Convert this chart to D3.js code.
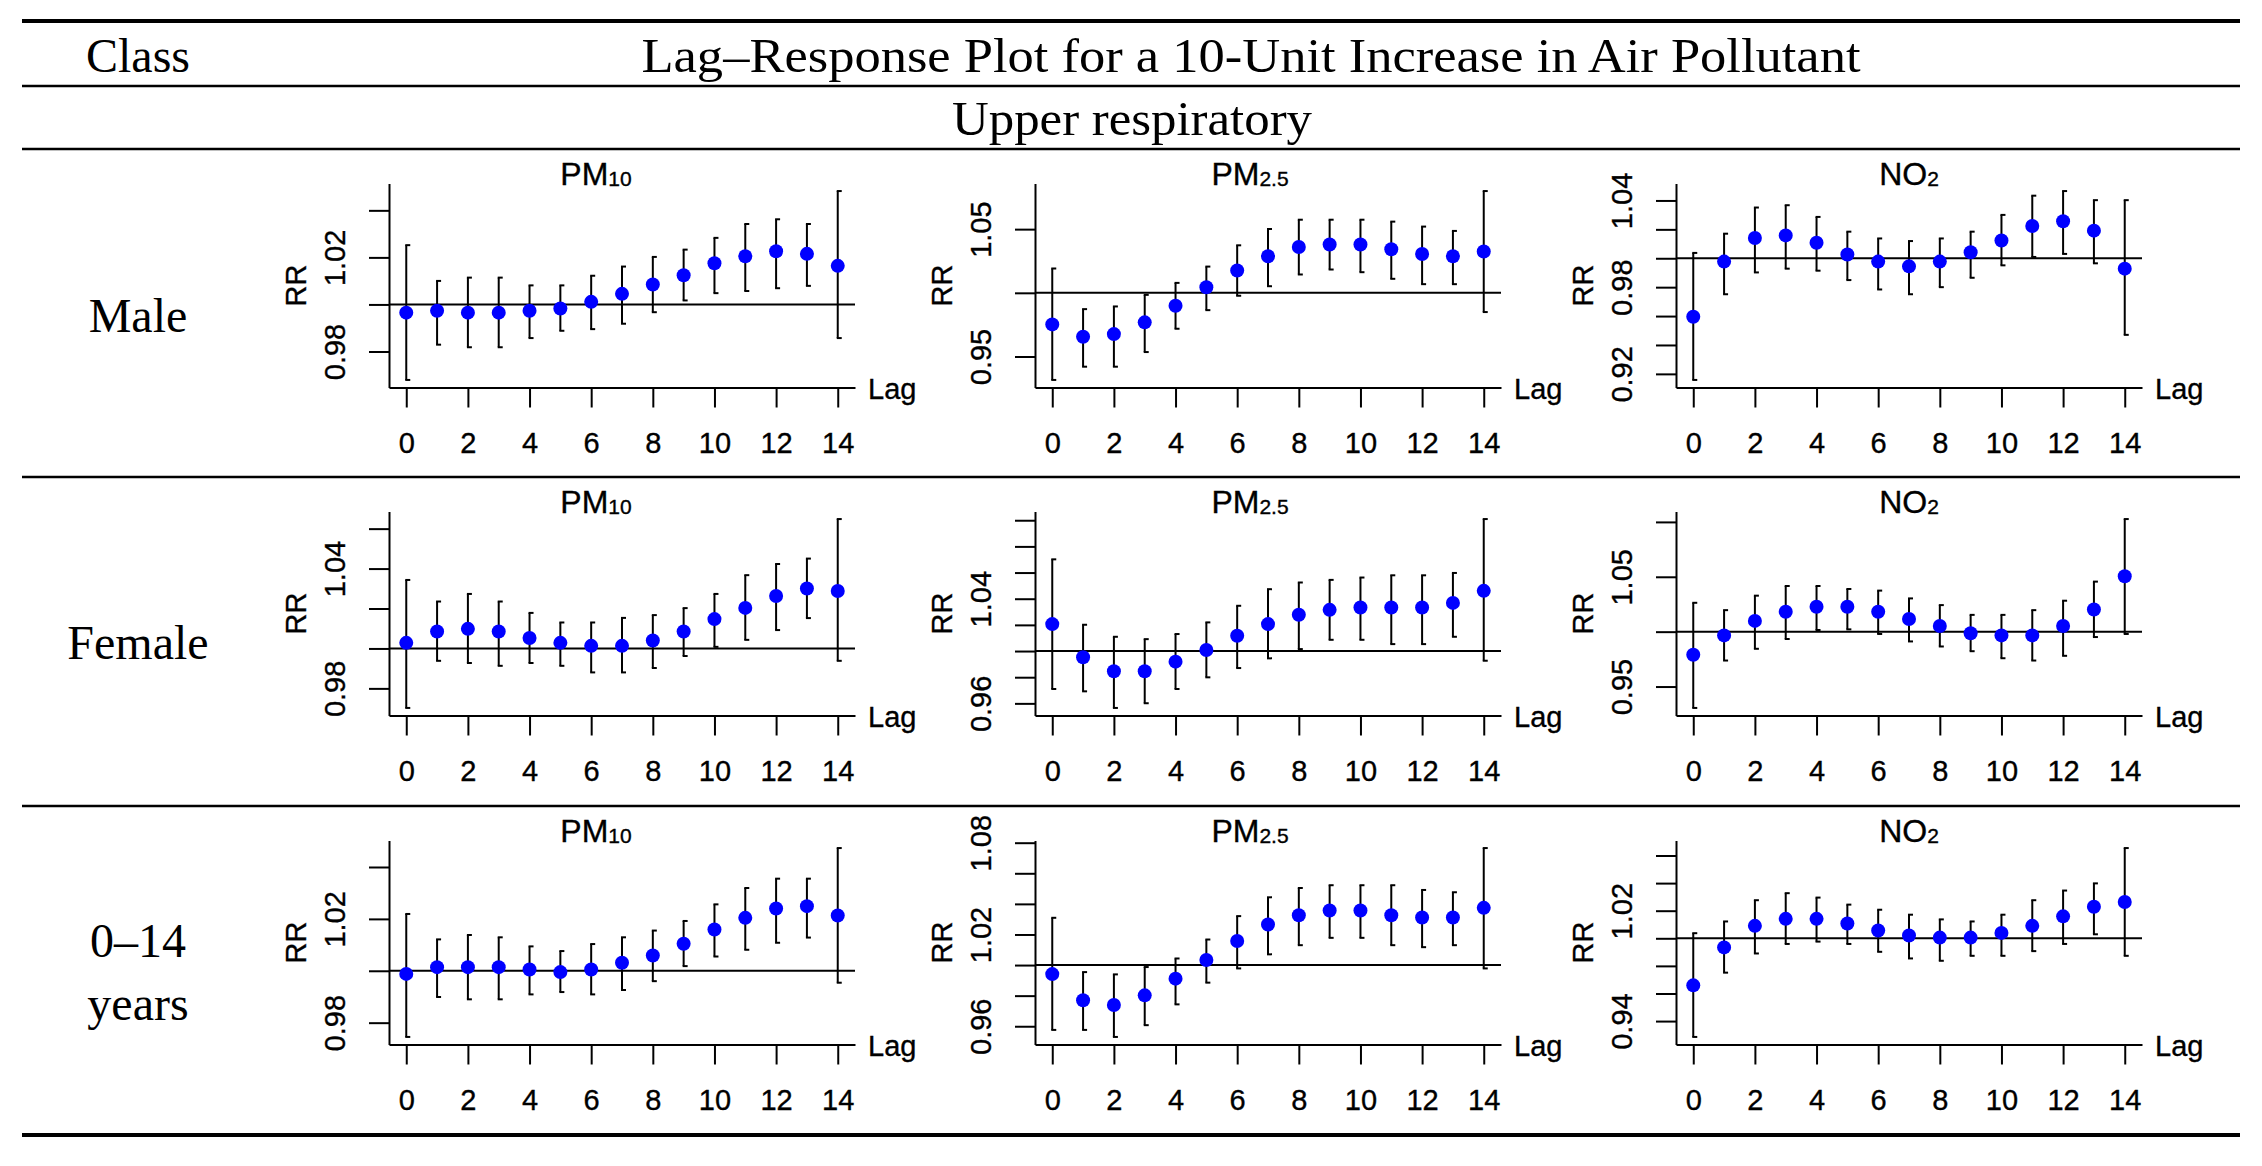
<!DOCTYPE html>
<html>
<head>
<meta charset="utf-8">
<script src="https://cdn.jsdelivr.net/npm/d3@7"></script>
<style>
  body { margin: 0; background: #fff; }
  svg { display: block; }
  .serif { font-family: "Liberation Serif", "Times New Roman", serif; fill: #000; }
  .sans  { font-family: "Liberation Sans", Arial, sans-serif; fill: #000; stroke: #000; stroke-width: 0.35px; }
  .axis path, .axis line { stroke: #000; stroke-width: 2; }
</style>
</head>
<body>
<svg id="chart" width="2262" height="1166"></svg>
<script>
/* ---- data: relative risk per lag, with 95% CI ---- */
const lags = [0,1,2,3,4,5,6,7,8,9,10,11,12,13,14];
const lagTicks = [0,2,4,6,8,10,12,14];
const classes = ['Male', 'Female', '0–14 years'];
const pollutants = ['PM10', 'PM2.5', 'NO2'];

const male_pm10_rr = [0.9965,0.9973,0.9965,0.9965,0.9973,0.9983,1.0011,1.0045,1.0085,1.0124,1.0175,1.0205,1.0226,1.0215,1.0164];
const male_pm10_lo = [0.9679,0.9829,0.9818,0.9818,0.9857,0.9888,0.9895,0.9918,0.9967,1.0017,1.0048,1.0057,1.0069,1.0079,0.9857];
const male_pm10_hi = [1.0252,1.0100,1.0114,1.0114,1.0081,1.0081,1.0122,1.0161,1.0202,1.0233,1.0283,1.0342,1.0362,1.0342,1.0482];

const male_pm25_rr = [0.9752,0.9655,0.9676,0.9768,0.9898,1.0044,1.0175,1.0287,1.0360,1.0379,1.0379,1.0342,1.0305,1.0287,1.0324];
const male_pm25_lo = [0.9316,0.9420,0.9420,0.9535,0.9718,0.9864,0.9977,1.0052,1.0144,1.0183,1.0162,1.0110,1.0068,1.0068,0.9849];
const male_pm25_hi = [1.0191,0.9872,0.9893,0.9984,1.0078,1.0206,1.0373,1.0501,1.0574,1.0574,1.0574,1.0559,1.0520,1.0486,1.0799];

const male_no2_rr = [0.9595,0.9977,1.0140,1.0158,1.0107,1.0026,0.9977,0.9944,0.9977,1.0042,1.0123,1.0223,1.0256,1.0191,0.9928];
const male_no2_lo = [0.9158,0.9751,0.9902,0.9928,0.9914,0.9849,0.9784,0.9751,0.9800,0.9865,0.9951,1.0009,1.0030,0.9965,0.9470];
const male_no2_hi = [1.0037,1.0170,1.0351,1.0367,1.0286,1.0184,1.0137,1.0119,1.0137,1.0184,1.0300,1.0433,1.0465,1.0402,1.0402];

const female_pm10_rr = [1.0028,1.0085,1.0098,1.0085,1.0052,1.0028,1.0013,1.0013,1.0040,1.0085,1.0147,1.0203,1.0263,1.0300,1.0288];
const female_pm10_lo = [0.9702,0.9938,0.9927,0.9913,0.9927,0.9913,0.9880,0.9880,0.9902,0.9962,1.0008,1.0043,1.0092,1.0152,0.9938];
const female_pm10_hi = [1.0343,1.0235,1.0273,1.0235,1.0178,1.0130,1.0130,1.0153,1.0167,1.0202,1.0273,1.0367,1.0423,1.0450,1.0648];

const female_pm25_rr = [1.0206,0.9952,0.9845,0.9845,0.9919,1.0008,1.0117,1.0206,1.0277,1.0315,1.0333,1.0333,1.0333,1.0368,1.0460];
const female_pm25_lo = [0.9710,0.9692,0.9565,0.9601,0.9710,0.9799,0.9870,0.9944,1.0015,1.0086,1.0086,1.0053,1.0053,1.0109,0.9926];
const female_pm25_hi = [1.0701,1.0201,1.0109,1.0091,1.0130,1.0219,1.0346,1.0473,1.0524,1.0544,1.0562,1.0579,1.0579,1.0597,1.1009];

const female_no2_rr = [0.9789,0.9966,1.0098,1.0181,1.0227,1.0227,1.0181,1.0116,1.0052,0.9985,0.9966,0.9966,1.0052,1.0202,1.0505];
const female_no2_lo = [0.9305,0.9737,0.9844,0.9933,1.0015,1.0021,0.9979,0.9911,0.9865,0.9822,0.9758,0.9737,0.9780,0.9951,0.9979];
const female_no2_hi = [1.0263,1.0196,1.0328,1.0416,1.0416,1.0389,1.0374,1.0303,1.0242,1.0153,1.0153,1.0196,1.0282,1.0456,1.1026];

const child_pm10_rr = [0.9988,1.0014,1.0014,1.0014,1.0005,0.9995,1.0005,1.0031,1.0059,1.0104,1.0159,1.0204,1.0240,1.0249,1.0213];
const child_pm10_lo = [0.9745,0.9899,0.9890,0.9890,0.9909,0.9918,0.9909,0.9926,0.9960,1.0018,1.0055,1.0081,1.0108,1.0128,0.9954];
const child_pm10_hi = [1.0219,1.0121,1.0138,1.0129,1.0094,1.0076,1.0103,1.0129,1.0155,1.0192,1.0256,1.0319,1.0355,1.0355,1.0473];

const child_pm25_rr = [0.9941,0.9770,0.9739,0.9802,0.9911,1.0033,1.0157,1.0265,1.0326,1.0357,1.0357,1.0326,1.0311,1.0311,1.0374];
const child_pm25_lo = [0.9576,0.9576,0.9530,0.9607,0.9743,0.9885,0.9978,1.0070,1.0130,1.0178,1.0178,1.0130,1.0117,1.0130,0.9978];
const child_pm25_hi = [1.0309,0.9954,0.9939,0.9987,1.0043,1.0167,1.0320,1.0443,1.0504,1.0522,1.0522,1.0522,1.0491,1.0476,1.0765];

const child_no2_rr = [0.9659,0.9934,1.0090,1.0141,1.0141,1.0107,1.0056,1.0020,1.0005,1.0005,1.0039,1.0090,1.0159,1.0229,1.0263];
const child_no2_lo = [0.9285,0.9751,0.9890,0.9959,0.9976,0.9959,0.9902,0.9854,0.9837,0.9873,0.9873,0.9907,0.9959,1.0029,0.9873];
const child_no2_hi = [1.0037,1.0122,1.0276,1.0327,1.0295,1.0244,1.0207,1.0171,1.0137,1.0122,1.0171,1.0276,1.0346,1.0398,1.0654];

/* y ticks per panel (R pretty) and the labels R managed to print */
const male_pm10_ticks = [0.98,1.00,1.02,1.04],   male_pm10_labels = [0.98,1.02];
const male_pm25_ticks = [0.95,1.00,1.05],        male_pm25_labels = [0.95,1.05];
const male_no2_ticks  = [0.92,0.94,0.96,0.98,1.00,1.02,1.04], male_no2_labels = [0.92,0.98,1.04];
const female_pm10_ticks = [0.98,1.00,1.02,1.04,1.06], female_pm10_labels = [0.98,1.04];
const female_pm25_ticks = [0.96,0.98,1.00,1.02,1.04,1.06,1.08,1.10], female_pm25_labels = [0.96,1.04];
const female_no2_ticks  = [0.95,1.00,1.05,1.10], female_no2_labels = [0.95,1.05];
const child_pm10_ticks = [0.98,1.00,1.02,1.04], child_pm10_labels = [0.98,1.02];
const child_pm25_ticks = [0.96,0.98,1.00,1.02,1.04,1.06,1.08], child_pm25_labels = [0.96,1.02,1.08];
const child_no2_ticks  = [0.94,0.96,0.98,1.00,1.02,1.04,1.06], child_no2_labels = [0.94,1.02];

/* panel table built from the arrays above: [row][col] */
const panels = [
  [[male_pm10_rr, male_pm10_lo, male_pm10_hi, male_pm10_ticks, male_pm10_labels],
   [male_pm25_rr, male_pm25_lo, male_pm25_hi, male_pm25_ticks, male_pm25_labels],
   [male_no2_rr,  male_no2_lo,  male_no2_hi,  male_no2_ticks,  male_no2_labels]],
  [[female_pm10_rr, female_pm10_lo, female_pm10_hi, female_pm10_ticks, female_pm10_labels],
   [female_pm25_rr, female_pm25_lo, female_pm25_hi, female_pm25_ticks, female_pm25_labels],
   [female_no2_rr,  female_no2_lo,  female_no2_hi,  female_no2_ticks,  female_no2_labels]],
  [[child_pm10_rr, child_pm10_lo, child_pm10_hi, child_pm10_ticks, child_pm10_labels],
   [child_pm25_rr, child_pm25_lo, child_pm25_hi, child_pm25_ticks, child_pm25_labels],
   [child_no2_rr,  child_no2_lo,  child_no2_hi,  child_no2_ticks,  child_no2_labels]]
];

/* ---- layout ---- */
const svg = d3.select('#chart');
const RULE_X0 = 22, RULE_X1 = 2240;
const rowRules = [149, 477, 806];
const colLefts = [389, 1035, 1676];
const PW = 466, PH = 204, PTOP = 34.5;
const FS = 29;                         // axis text size
const titleShift = { 'PM10': -26, 'PM2.5': -18, 'NO2': 0 };

svg.append('rect').attr('width', 2262).attr('height', 1166).attr('fill', '#fff');

/* table rules */
const rule = (y, w) => svg.append('line').attr('x1', RULE_X0).attr('x2', RULE_X1)
  .attr('y1', y).attr('y2', y).attr('stroke', '#000').attr('stroke-width', w);
rule(21, 4); rule(86, 2.5); rule(149, 2.5); rule(477, 2.5); rule(806, 2.5); rule(1135, 4);

const serif = (x, y, t, len) => {
  const s = svg.append('text').attr('class', 'serif').attr('x', x).attr('y', y)
    .attr('text-anchor', 'middle').style('font-size', '48px').text(t);
  if (len) s.attr('textLength', len).attr('lengthAdjust', 'spacingAndGlyphs');
  return s;
};
serif(138, 72, 'Class');
serif(1251, 72, 'Lag–Response Plot for a 10-Unit Increase in Air Pollutant', 1219);
serif(1132, 135, 'Upper respiratory', 360);
serif(138, 332, classes[0]);
serif(138, 659, classes[1]);
serif(138, 957, classes[2].split(' ')[0]);
serif(138, 1020, classes[2].split(' ')[1]);

/* R-style 4% axis extension */
const extend = ([a, b]) => { const d = (b - a) * 0.04; return [a - d, b + d]; };

function drawPanel(row, col) {
  const [rr, lo, hi, ticks, labels] = panels[row][col];
  const name = pollutants[col];
  const g = svg.append('g').attr('transform', `translate(${colLefts[col]},${rowRules[row] + PTOP})`);

  const x = d3.scaleLinear().domain(extend(d3.extent(lags))).range([0, PW]);
  const y = d3.scaleLinear().domain(extend([d3.min(lo), d3.max(hi)])).range([PH, 0]);

  /* axes */
  const ya = g.append('g').attr('class', 'axis')
    .call(d3.axisLeft(y).tickValues(ticks).tickSize(20).tickSizeOuter(0)
      .tickFormat(d => labels.some(l => Math.abs(l - d) < 1e-9) ? d3.format('.2f')(d) : ''));
  ya.selectAll('text').attr('class', 'sans').attr('x', 0).attr('y', -44).attr('dy', null)
    .attr('text-anchor', 'middle').attr('transform', 'rotate(-90)')
    .style('font-size', FS + 'px').attr('fill', '#000');

  const xa = g.append('g').attr('class', 'axis').attr('transform', `translate(0,${PH})`)
    .call(d3.axisBottom(x).tickValues(lagTicks).tickSize(20).tickSizeOuter(0).tickPadding(25));
  xa.selectAll('text').attr('class', 'sans').style('font-size', FS + 'px').attr('fill', '#000');

  g.append('text').attr('class', 'sans').attr('x', -83).attr('y', PH / 2)
    .attr('transform', `rotate(-90,-83,${PH / 2})`).attr('text-anchor', 'middle')
    .style('font-size', FS + 'px').text('RR');
  g.append('text').attr('class', 'sans').attr('x', PW + 13).attr('y', PH + 11)
    .style('font-size', FS + 'px').text('Lag');

  /* title with subscript */
  const base = name.slice(0, name.search(/\d/)), sub = name.slice(name.search(/\d/));
  const t = g.append('text').attr('class', 'sans').attr('x', PW / 2 + titleShift[name]).attr('y', 1)
    .attr('text-anchor', 'middle').style('font-size', '32px');
  t.append('tspan').text(base);
  t.append('tspan').style('font-size', '21px').attr('dy', 1).text(sub);

  /* reference line RR = 1 */
  g.append('line').attr('x1', 0).attr('x2', PW).attr('y1', y(1)).attr('y2', y(1))
    .attr('stroke', '#000').attr('stroke-width', 2);

  /* CI bars */
  const bars = g.append('g').selectAll('g').data(lags).join('g')
    .attr('stroke', '#000').attr('stroke-width', 2);
  bars.append('line').attr('x1', d => x(d)).attr('x2', d => x(d))
    .attr('y1', (d, i) => y(lo[i])).attr('y2', (d, i) => y(hi[i]));
  bars.append('line').attr('x1', d => x(d) - 1).attr('x2', d => x(d) + 4)
    .attr('y1', (d, i) => y(hi[i])).attr('y2', (d, i) => y(hi[i]));
  bars.append('line').attr('x1', d => x(d) - 1).attr('x2', d => x(d) + 4)
    .attr('y1', (d, i) => y(lo[i])).attr('y2', (d, i) => y(lo[i]));

  /* point estimates */
  g.append('g').selectAll('circle').data(lags).join('circle')
    .attr('cx', d => x(d)).attr('cy', (d, i) => y(rr[i])).attr('r', 7)
    .attr('fill', '#0000ff');
}

for (let r = 0; r < 3; r++) for (let c = 0; c < 3; c++) drawPanel(r, c);
</script>
</body>
</html>
